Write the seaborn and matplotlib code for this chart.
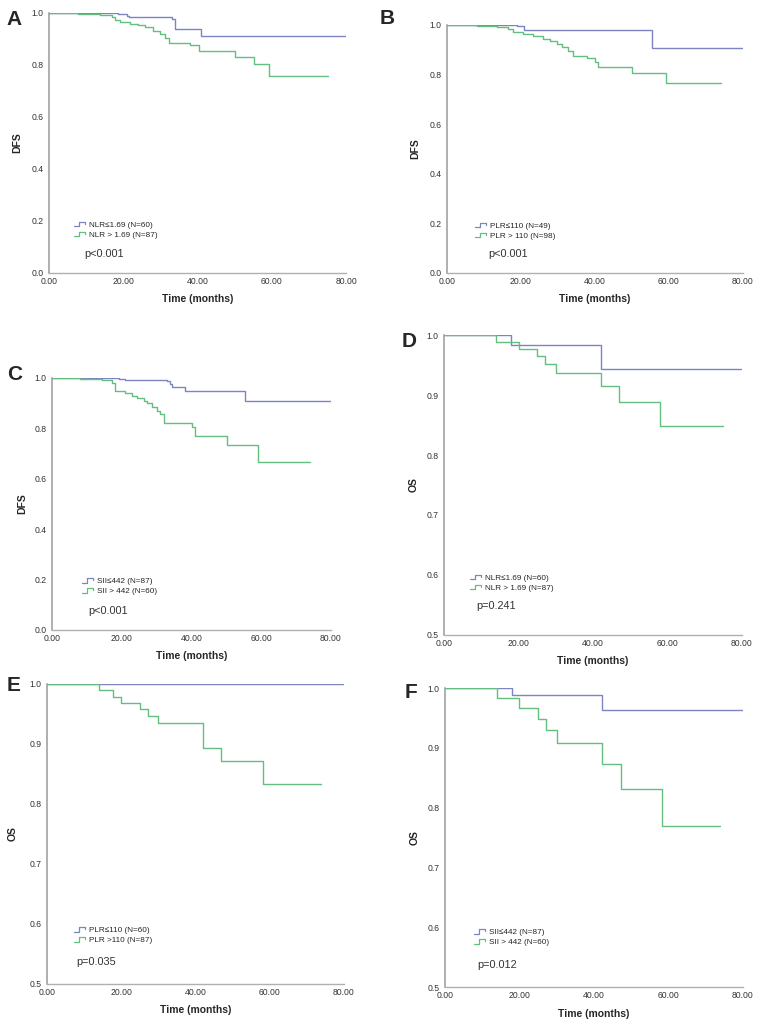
import numpy as np
import matplotlib
matplotlib.use("Agg")
import matplotlib.pyplot as plt
from matplotlib.lines import Line2D
from matplotlib.legend_handler import HandlerLine2D
import seaborn as sns

# --- Kaplan-Meier step values (time in months, survival) ---
# A: DFS by NLR
a_low_t = [0, 18.5, 21, 21.5, 33, 34, 41, 80]
a_low_s = [1.0, 0.995, 0.99, 0.983, 0.975, 0.937, 0.911, 0.911]
a_high_t = [0, 7.9, 13.7, 16.9, 17.8, 19, 21.8, 24, 25.9, 28.1, 30, 31.3, 32.2, 38, 40.3, 50.2, 55.1, 59.1, 75.1]
a_high_s = [1.0, 0.997, 0.993, 0.985, 0.974, 0.965, 0.958, 0.953, 0.945, 0.932, 0.92, 0.905, 0.885, 0.875, 0.853, 0.83, 0.804, 0.757, 0.757]

# B: DFS by PLR
b_low_t = [0, 18.9, 20.9, 55.3, 80]
b_low_s = [1.0, 0.995, 0.98, 0.906, 0.906]
b_high_t = [0, 8.1, 13.5, 16.6, 18, 20.7, 23.4, 26, 27.9, 29.7, 31, 32.8, 34.2, 37.8, 40, 40.9, 49.9, 59.1, 74.2]
b_high_s = [1.0, 0.997, 0.993, 0.985, 0.97, 0.962, 0.955, 0.945, 0.935, 0.925, 0.91, 0.895, 0.873, 0.865, 0.85, 0.83, 0.808, 0.766, 0.766]

# C: DFS by SII
c_low_t = [0, 19.1, 21, 32.9, 33.9, 34.4, 38.2, 55.4, 80]
c_low_s = [1.0, 0.997, 0.993, 0.987, 0.975, 0.964, 0.948, 0.909, 0.909]
c_high_t = [0, 8.1, 14.3, 17.2, 18.1, 21, 22.9, 24.3, 26.3, 27.2, 28.6, 30.1, 31, 32, 40.1, 41, 50.1, 59.2, 74]
c_high_s = [1.0, 0.997, 0.99, 0.98, 0.95, 0.94, 0.93, 0.92, 0.91, 0.9, 0.885, 0.87, 0.857, 0.82, 0.805, 0.769, 0.733, 0.667, 0.667]

# D: OS by NLR
d_low_t = [0, 18.1, 42.1, 79.8]
d_low_s = [1.0, 0.983, 0.944, 0.944]
d_high_t = [0, 14, 20.1, 25.1, 27.2, 30, 42.1, 47, 57.9, 74.9]
d_high_s = [1.0, 0.988, 0.977, 0.965, 0.952, 0.937, 0.915, 0.889, 0.848, 0.848]

# E: OS by PLR
e_low_t = [0, 80]
e_low_s = [1.0, 1.0]
e_high_t = [0, 13.9, 17.9, 19.9, 25.1, 27.1, 30, 42.1, 47, 58.2, 73.9]
e_high_s = [1.0, 0.99, 0.979, 0.9685, 0.958, 0.947, 0.935, 0.894, 0.871, 0.833, 0.833]

# F: OS by SII
f_low_t = [0, 17.9, 42.1, 80]
f_low_s = [1.0, 0.989, 0.964, 0.964]
f_high_t = [0, 14.1, 20, 25, 27.1, 30, 42.1, 47.2, 58.2, 73.9]
f_high_s = [1.0, 0.984, 0.967, 0.949, 0.93, 0.909, 0.873, 0.831, 0.77, 0.77]

letters = ["A", "B", "C", "D", "E", "F"]
ylabels = ["DFS", "DFS", "DFS", "OS", "OS", "OS"]
low_labels = ["NLR\u22641.69 (N=60)", "PLR\u2264110 (N=49)", "SII\u2264442 (N=87)",
              "NLR\u22641.69 (N=60)", "PLR\u2264110 (N=60)", "SII\u2264442 (N=87)"]
high_labels = ["NLR > 1.69 (N=87)", "PLR > 110 (N=98)", "SII > 442 (N=60)",
               "NLR > 1.69 (N=87)", "PLR >110 (N=87)", "SII > 442 (N=60)"]
pvalues = ["p<0.001", "p<0.001", "p<0.001", "p=0.241", "p=0.035", "p=0.012"]
x_ticks = [0, 20, 40, 60, 80]

curves = [
    (a_low_t, a_low_s, a_high_t, a_high_s),
    (b_low_t, b_low_s, b_high_t, b_high_s),
    (c_low_t, c_low_s, c_high_t, c_high_s),
    (d_low_t, d_low_s, d_high_t, d_high_s),
    (e_low_t, e_low_s, e_high_t, e_high_s),
    (f_low_t, f_low_s, f_high_t, f_high_s),
]

sns.set_style("white")
plt.rcParams['font.family'] = ['Liberation Sans', 'DejaVu Sans']

BLUE = "#7d84c2"
GREEN = "#62bf80"


class StepHandler(HandlerLine2D):
    # SPSS style legend key: a small step
    def create_artists(self, legend, orig_handle, xdescent, ydescent, width, height, fontsize, trans):
        xs = np.array([0, 0.45, 0.45, 1.0, 1.0]) * width - xdescent
        ys = np.array([0.1, 0.1, 0.9, 0.9, 0.55]) * height - ydescent
        ln = Line2D(xs, ys, color=orig_handle.get_color(), lw=0.9)
        ln.set_transform(trans)
        return [ln]


fig = plt.figure(figsize=(7.6, 10.27), dpi=100)

# axes boxes in figure fractions
boxes = [
    (0.0645, 0.7342, 0.391, 0.2532),
    (0.588, 0.7342, 0.3895, 0.2415),
    (0.0684, 0.3866, 0.367, 0.2454),
    (0.5842, 0.3817, 0.392, 0.2921),
    (0.0618, 0.0419, 0.3908, 0.2921),
    (0.5855, 0.0389, 0.392, 0.2911),
]
letter_pos = [(0.009, 0.981), (0.5, 0.982), (0.009, 0.635), (0.529, 0.667), (0.009, 0.333), (0.533, 0.326)]
leg_pos = [(0.084, 0.165), (0.095, 0.169), (0.107, 0.173), (0.087, 0.173), (0.091, 0.162), (0.097, 0.166)]
p_pos = [(0.118, 0.073), (0.139, 0.077), (0.13, 0.075), (0.107, 0.097), (0.10, 0.073), (0.107, 0.074)]
ylab_x = [-0.091, -0.091, -0.09, -0.084, -0.098, -0.084]

for i, box in enumerate(boxes):
    ax = fig.add_axes(box)
    lt, ls, ht, hs = curves[i]
    sns.lineplot(x=lt, y=ls, ax=ax, color=BLUE, lw=1.0, drawstyle="steps-post",
                 estimator=None, sort=False, label=low_labels[i])
    sns.lineplot(x=ht, y=hs, ax=ax, color=GREEN, lw=1.0, drawstyle="steps-post",
                 estimator=None, sort=False, label=high_labels[i])

    ax.set_xlim(0, 80)
    if i < 3:
        ax.set_ylim(0, 1.0)
        ax.set_yticks([0.0, 0.2, 0.4, 0.6, 0.8, 1.0])
    else:
        ax.set_ylim(0.5, 1.0)
        ax.set_yticks([0.5, 0.6, 0.7, 0.8, 0.9, 1.0])
    ax.set_xticks(x_ticks)
    ax.set_xticklabels([f"{v:.2f}" for v in x_ticks])
    ax.set_yticklabels([f"{v:.1f}" for v in ax.get_yticks()])

    for s in ["top", "right"]:
        ax.spines[s].set_visible(False)
    ax.spines["left"].set_color("#9a9a9a")
    ax.spines["bottom"].set_color("#b0b0b0")
    ax.spines["left"].set_linewidth(1.1)
    ax.spines["bottom"].set_linewidth(1.0)
    ax.tick_params(axis="y", direction="out", length=3, width=0.8, color="#555555",
                   labelsize=6.2, labelcolor="#333333", pad=1)
    ax.tick_params(axis="x", direction="inout", length=5, width=0.8, color="#555555",
                   labelsize=6.2, labelcolor="#333333", pad=0.5)

    ax.set_xlabel("Time (months)", fontsize=7.5, fontweight="bold", labelpad=6)
    ax.set_ylabel(ylabels[i], fontsize=7.5, fontweight="bold")
    ax.yaxis.set_label_coords(ylab_x[i], 0.5)

    ax.legend(loc="center left", bbox_to_anchor=leg_pos[i], frameon=False, fontsize=5.9,
              borderpad=0, borderaxespad=0, handlelength=1.4, handletextpad=0.4,
              labelspacing=0.25, handler_map={Line2D: StepHandler()})
    ax.text(p_pos[i][0], p_pos[i][1], pvalues[i], transform=ax.transAxes, fontsize=7.8,
            color="#333333", va="center", ha="left")

    fig.text(letter_pos[i][0], letter_pos[i][1], letters[i], fontsize=15, fontweight="bold",
             va="center", ha="left")

fig.savefig("out.png", dpi=100)
